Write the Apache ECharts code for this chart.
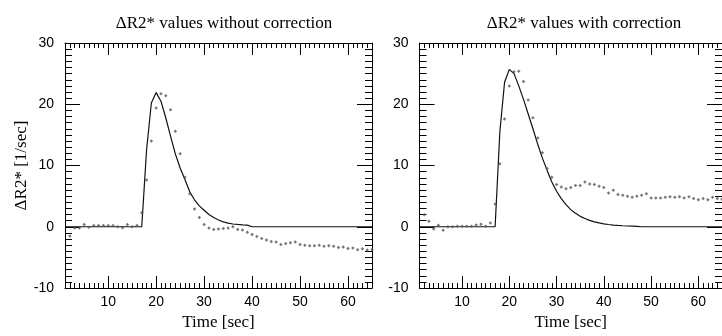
<!DOCTYPE html>
<html>
<head>
<meta charset="utf-8">
<script src="https://cdn.jsdelivr.net/npm/echarts@6/dist/echarts.min.js"></script>
<style>
  html, body { margin: 0; padding: 0; background: #fff; }
  #chart { width: 722px; height: 336px; }
</style>
</head>
<body>
<div id="chart"></div>
<script>
// ---- data ----
const panelTitles = ['\u0394R2* values without correction', '\u0394R2* values with correction'];
const xTickLabels = [10, 20, 30, 40, 50, 60];
const yTickLabels = [-10, 0, 10, 20, 30];

// sample times [sec]
const sampleTimes = [2,3,4,5,6,7,8,9,10,11,12,13,14,15,16,17,18,19,20,21,22,23,24,25,26,27,28,29,30,31,32,33,34,35,36,37,38,39,40,41,42,43,44,45,46,47,48,49,50,51,52,53,54,55,56,57,58,59,60,61,62,63,64,65];

// measured ΔR2* without correction
const samplesWithout = [-1.5,-0.2,-0.2,0.35,-0.1,0.2,0.2,0.2,0.2,0.2,0,-0.15,0.35,0,0.2,
  2.3,7.65,14,19.4,21.7,21.4,19.1,15.6,11.9,8.1,5.4,2.9,1.5,0.35,
  -0.2,-0.45,-0.35,-0.3,-0.2,0,-0.45,-0.55,-0.9,-1.25,-1.6,-1.9,-2.15,-2.4,-2.5,-2.9,-2.75,-2.6,-2.5,-2.9,-3.0,-3.1,-3.1,-3.0,-3.2,-3.1,-3.2,-3.4,-3.3,-3.55,-3.45,-3.75,-3.6,-3.8,-3.7];

// measured ΔR2* with correction
const samplesWith = [1.95,0.9,-0.35,0.24,-0.56,0,0,0.1,0.1,0.1,0.1,0.3,0.4,0.1,0.6,
  3.7,10.3,17.6,23.0,25.3,25.4,23.7,20.7,17.8,14.5,12.1,9.5,8.1,6.9,
  6.5,6.2,6.4,6.75,6.75,7.3,7.0,6.9,6.6,6.4,5.5,5.95,5.25,5.15,5.0,4.8,5.0,5.15,5.4,4.7,4.7,4.7,4.8,4.9,4.8,4.9,4.7,4.9,4.6,4.4,4.6,4.4,4.8,4.6,4.5];

// fitted curves
const fitTimes = [1,17,18,19,20,21,22,23,24,25,26,27,28,29,30,31,32,33,34,35,36,37,38,39,40,41,42,43,44,45,46,47,48,65];
const fitWithout = [0,0,12.5,20.2,21.9,20.5,17.8,14.8,11.9,9.6,7.7,5.7,4.4,3.4,2.7,2.0,1.5,1.1,0.8,0.6,0.45,0.38,0.32,0.27,0,0,0,0,0,0,0,0,0,0];
const fitWith = [0,0,15.5,23.6,25.7,25.0,23.0,20.8,18.4,16.0,13.5,11.2,9.2,7.3,5.8,4.6,3.6,2.8,2.2,1.7,1.35,1.05,0.8,0.62,0.48,0.37,0.28,0.21,0.16,0.12,0.09,0.06,0,0];

// ---- layout ----
const serif = '"Liberation Serif", "Times New Roman", serif';
const sans = '"Liberation Sans", Arial, Helvetica, sans-serif';
const grids = [
  { left: 65, top: 43, width: 307, height: 250 },
  { left: 419.5, top: 43, width: 307, height: 250 }
];
const titleX = [219, 579];

const pair = (xs, ys) => xs.map((x, i) => [x, ys[i]]);

const xAxes = [], yAxes = [], series = [], titles = [];
grids.forEach((g, gi) => {
  const base = { type: 'value', gridIndex: gi, min: 1, max: 65, splitLine: { show: false } };
  const lineStyle = { color: '#000', width: 1 };
  xAxes.push(Object.assign({}, base, {
    position: 'bottom',
    axisLine: { show: true, onZero: false, lineStyle },
    axisTick: { show: true, inside: true, length: 12, customValues: xTickLabels, lineStyle },
    axisLabel: { show: true, customValues: xTickLabels, color: '#000', fontFamily: sans, fontSize: 14, margin: 7 },
    name: 'Time [sec]', nameLocation: 'middle', nameGap: 26,
    nameTextStyle: { color: '#000', fontFamily: serif, fontSize: 17 }
  }));
  xAxes.push(Object.assign({}, base, {
    position: 'bottom', interval: 1,
    axisLine: { show: false, onZero: false },
    axisTick: { show: true, inside: true, length: 5, lineStyle },
    axisLabel: { show: false }
  }));
  xAxes.push(Object.assign({}, base, {
    position: 'top',
    axisLine: { show: true, onZero: false, lineStyle },
    axisTick: { show: true, inside: true, length: 12, customValues: xTickLabels, lineStyle },
    axisLabel: { show: false }
  }));
  xAxes.push(Object.assign({}, base, {
    position: 'top', interval: 1,
    axisLine: { show: false, onZero: false },
    axisTick: { show: true, inside: true, length: 5, lineStyle },
    axisLabel: { show: false }
  }));
  const ybase = { type: 'value', gridIndex: gi, min: -10, max: 30, interval: 10, splitLine: { show: false },
    minorTick: { show: true, splitNumber: 10, length: 7, lineStyle } };
  yAxes.push(Object.assign({}, ybase, {
    position: 'left',
    axisLine: { show: true, onZero: false, lineStyle },
    axisTick: { show: true, inside: true, length: 15, lineStyle },
    axisLabel: { show: true, color: '#000', fontFamily: sans, fontSize: 14, margin: 11 },
    name: gi === 0 ? '\u0394R2* [1/sec]' : '', nameLocation: 'middle', nameGap: 31,
    nameTextStyle: { color: '#000', fontFamily: serif, fontSize: 17 }
  }));
  yAxes.push(Object.assign({}, ybase, {
    position: 'right',
    axisLine: { show: true, onZero: false, lineStyle },
    axisTick: { show: true, inside: true, length: 15, lineStyle },
    axisLabel: { show: false }
  }));
  titles.push({
    text: panelTitles[gi], left: titleX[gi], top: 10, textAlign: 'center',
    textStyle: { color: '#000', fontFamily: serif, fontSize: 17, fontWeight: 'normal' }
  });
  const fit = gi === 0 ? fitWithout : fitWith;
  const smp = gi === 0 ? samplesWithout : samplesWith;
  series.push({
    type: 'line', xAxisIndex: gi * 4, yAxisIndex: gi * 2,
    data: pair(fitTimes, fit), symbol: 'none', silent: true,
    lineStyle: { color: '#111', width: 1.2 }, z: 3
  });
  series.push({
    type: 'scatter', xAxisIndex: gi * 4, yAxisIndex: gi * 2,
    data: pair(sampleTimes, smp), symbol: 'diamond', symbolSize: 3.5,
    itemStyle: { color: '#555' }, z: 4, silent: true
  });
});

const chart = echarts.init(document.getElementById('chart'), null, { renderer: 'canvas' });
chart.setOption({
  animation: false,
  backgroundColor: '#fff',
  title: titles,
  grid: grids,
  xAxis: xAxes,
  yAxis: yAxes,
  series: series
});
</script>
</body>
</html>
